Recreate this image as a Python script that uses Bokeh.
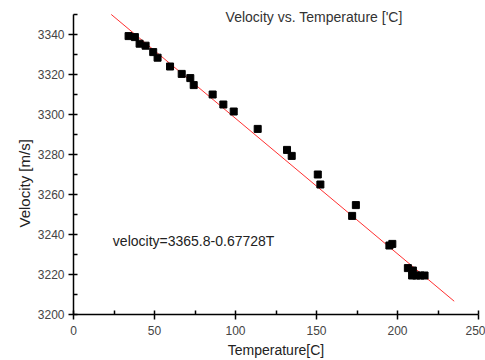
from bokeh.plotting import figure
from bokeh.models import Range1d, Label, SingleIntervalTicker, Title
from bokeh.embed import file_html
from bokeh.resources import INLINE

temperature = [34.0, 37.9, 40.8, 44.5, 49.2, 51.9, 59.6, 66.8, 72.1, 74.2, 85.9, 92.5,
               98.9, 113.7, 131.8, 134.7, 150.8, 152.4, 172.0, 174.3, 195.0, 196.8,
               206.4, 209.5, 209.0, 211.6, 214.2, 216.7]
velocity = [3339.2, 3338.7, 3335.4, 3334.4, 3331.2, 3328.4, 3324.0, 3320.3, 3318.2, 3314.7,
            3310.0, 3305.0, 3301.5, 3292.8, 3282.3, 3279.3, 3270.0, 3265.0, 3249.3, 3254.7,
            3234.5, 3235.3, 3223.2, 3222.0, 3219.5, 3219.5, 3219.5, 3219.5]
fit_intercept = 3365.8
fit_slope = -0.67728
fit_x = [23.3, 235.0]
fit_y = [fit_intercept + fit_slope * t for t in fit_x]

title_text = "Velocity vs. Temperature ['C]"
eq_text = "velocity=3365.8-0.67728T"
x_label = "Temperature[C]"
y_label = "Velocity [m/s]"

FONT = "Liberation Sans"

p = figure(width=485, height=360, output_backend="svg", toolbar_location=None,
           x_range=Range1d(0, 250), y_range=Range1d(3200, 3357),
           min_border_left=73, min_border_right=7, min_border_top=0, min_border_bottom=46)
p.outline_line_color = None
p.grid.visible = False
p.background_fill_color = "white"
p.border_fill_color = "white"

p.line(fit_x, fit_y, line_color="#ff3030", line_width=1)
p.scatter(temperature, velocity, marker="square", size=7, fill_color="black", line_color="black")

p.xaxis.ticker = SingleIntervalTicker(interval=50, num_minor_ticks=2)
p.yaxis.ticker = SingleIntervalTicker(interval=20, num_minor_ticks=2)
p.yaxis.bounds = (3200, 3350)
for ax in (p.xaxis, p.yaxis):
    ax.axis_line_width = 1.5
    ax.axis_line_color = "black"
    ax.major_tick_line_color = "black"
    ax.major_tick_line_width = 1.5
    ax.major_tick_out = 5
    ax.major_tick_in = 0
    ax.minor_tick_line_color = "black"
    ax.minor_tick_line_width = 1.5
    ax.minor_tick_in = 4
    ax.minor_tick_out = 0
    ax.major_label_text_font = FONT
    ax.major_label_text_font_size = "12px"
    ax.major_label_text_color = "#444444"
    ax.axis_label_text_font = FONT
    ax.axis_label_text_font_style = "normal"
    ax.axis_label_text_color = "#222222"

p.xaxis.axis_label = x_label
p.xaxis.axis_label_text_font_size = "14px"
p.xaxis.major_label_standoff = 6
p.xaxis.axis_label_standoff = 4
p.yaxis.major_label_standoff = 4

p.add_layout(Title(text=y_label, align="left", offset=87, standoff=4,
                   text_font=FONT, text_font_size="15px", text_font_style="normal",
                   text_color="#222222"), "left")

p.add_layout(Label(x=148.5, y=3349, text=title_text, text_align="center",
                   text_baseline="middle", text_font=FONT, text_font_size="14px",
                   text_color="#333333"))
p.add_layout(Label(x=24.3, y=3237, text=eq_text, text_align="left",
                   text_baseline="middle", text_font=FONT, text_font_size="14px",
                   text_color="#222222"))

open("out.html", "w").write(file_html(p, INLINE))
